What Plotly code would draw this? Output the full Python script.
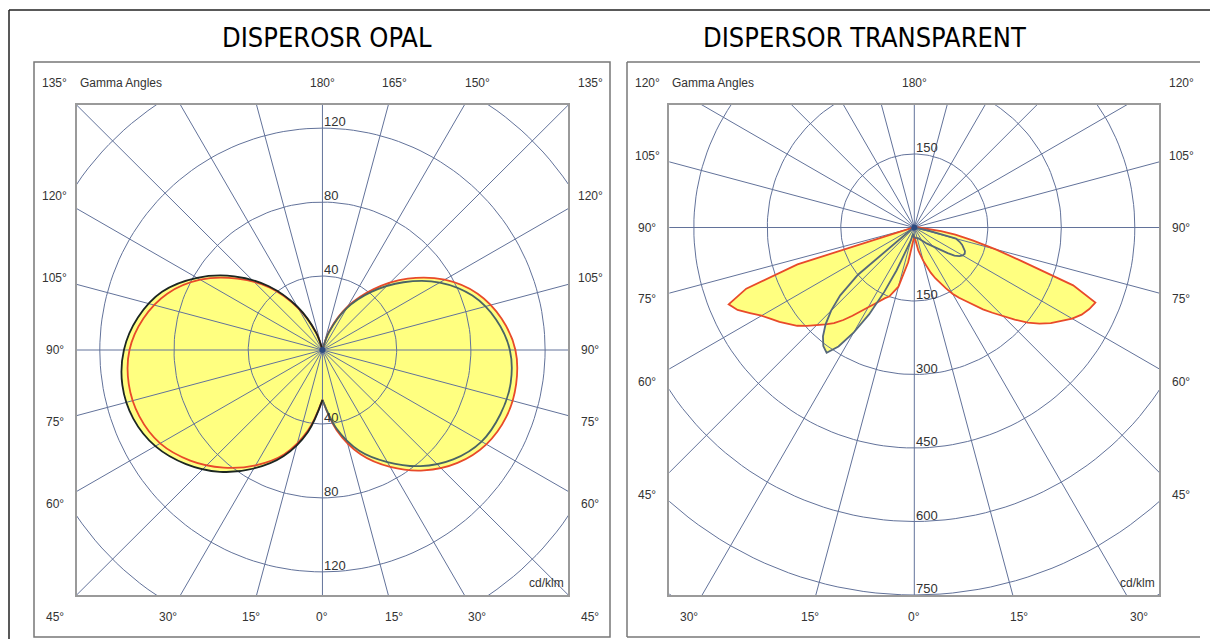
import math
import plotly.graph_objects as go

W, H = 1210, 639

# ---------------- data ----------------
TITLE_OPAL = "DISPEROSR OPAL"
TITLE_TRANS = "DISPERSOR TRANSPARENT"
AXIS_NAME = "Gamma Angles"
UNIT = "cd/klm"

# Opal diffuser, luminous intensity (cd/klm) vs gamma angle (deg)
OPAL_GAMMA = [0, 10, 20, 30, 40, 50, 60, 70, 80, 90, 100, 110, 120, 130, 140, 150, 160, 170, 180]
OPAL_C0 = [27, 44, 60, 73, 85, 95, 102, 105.5, 106, 104, 98, 89, 76, 60, 43, 27, 11, 0, 0]
OPAL_C180 = [27, 44, 60, 72, 83, 93, 101, 105, 106, 104, 98, 89, 76, 60, 44, 26, 10, 0, 0]
OPAL_C90 = [27, 43, 58, 70, 82, 92, 99, 102, 103, 101, 95, 86, 73, 57, 41, 26, 10, 0, 0]
OPAL_C270 = [27, 45, 61, 74, 86, 96, 104, 108.5, 109.5, 107, 101, 92, 78, 62, 45, 27, 10, 0, 0]
OPAL_CIRCLES = [40, 80, 120, 160]
OPAL_RLABELS_UP = [40, 80, 120]
OPAL_RLABELS_DOWN = [40, 80, 120]
OPAL_ANGLES_LEFT = [135, 120, 105, 90, 75, 60, 45, 30, 15, 0]
OPAL_ANGLES_RIGHT = [15, 30, 45, 60, 75, 90, 105, 120, 135, 150, 165, 180]

# Transparent diffuser
TRANS_GAMMA = [0, 5, 10, 15, 20, 22.5, 25, 27.5, 30, 32.5, 35, 37.5, 40, 42.5, 45, 47.5, 50,
               52.5, 55, 57.5, 60, 62.5, 65, 67.5, 70, 72.5, 75, 77.5, 80, 82.5, 85, 87.5, 90,
               100, 120, 150, 180]
TRANS_C0 = [18, 28, 48, 70, 98, 112, 126, 140, 156, 170, 183, 200, 218, 236, 255, 278, 302,
            322, 340, 356, 372, 385, 394, 400, 345, 232, 172, 122, 85, 55, 28, 12, 4,
            0, 0, 0, 0]
TRANS_C180 = [18, 30, 72, 125, 150, 156, 166, 176, 188, 203, 220, 238, 255, 268, 282, 297, 312,
              324, 336, 347, 360, 378, 398, 410, 365, 250, 40, 15, 8, 5, 3, 2, 1,
              0, 0, 0, 0]
TRANS_C90 = [21, 21, 21, 22, 23, 25, 27, 29, 31, 34, 37, 41, 45, 50, 55, 63, 72,
             86, 100, 109, 114, 116, 114, 109, 104, 97, 88, 30, 15, 10, 7, 5, 3,
             1, 0, 0, 0]
TRANS_C270 = [21, 16, 13, 28, 58, 95, 145, 200, 248, 288, 312, 305, 290, 268, 240, 205, 150,
              40, 12, 8, 6, 5, 4, 3, 3, 2, 2, 1, 1, 0, 0, 0, 0,
              0, 0, 0, 0]
TRANS_CIRCLES = [150, 300, 450, 600, 750, 900]
TRANS_RLABELS_UP = [150]
TRANS_RLABELS_DOWN = [150, 300, 450, 600, 750]
TRANS_ANGLES_LEFT = [120, 105, 90, 75, 60, 45, 30, 15, 0]
TRANS_ANGLES_RIGHT = [15, 30, 45, 60, 75, 90, 105, 120, 180]

# ---------------- styles ----------------
FILL = "#ffff80"
RED = "#e84a2a"
GRID = "#62729a"
TEXT = "#333333"
FONT = "Liberation Sans, Arial, sans-serif"
TITLE_FONT = "DejaVu Sans Condensed, DejaVu Sans, sans-serif"
RAY_STEP = 15
LABEL_GAP_PX = 22

PANELS = [
    dict(xa="x", ya="y", dom_px=(76.6, 568.3), xr=(-132.5, 132.5), yr=(-132.5, 132.5),
         gamma=OPAL_GAMMA, red=(OPAL_C0, OPAL_C180), dark=(OPAL_C90, OPAL_C270),
         dark_col=("#4a6464", "#1c2622"), shape="spline",
         circles=OPAL_CIRCLES, up=OPAL_RLABELS_UP, down=OPAL_RLABELS_DOWN,
         al=OPAL_ANGLES_LEFT, ar=OPAL_ANGLES_RIGHT, title=TITLE_OPAL, title_x=327),
    dict(xa="x2", ya="y2", dom_px=(669.3, 1159.3), xr=(-500, 500), yr=(-750, 250),
         gamma=TRANS_GAMMA, red=(TRANS_C0, TRANS_C180), dark=(TRANS_C90, TRANS_C270),
         dark_col=("#56687a", "#56687a"), shape="linear",
         circles=TRANS_CIRCLES, up=TRANS_RLABELS_UP, down=TRANS_RLABELS_DOWN,
         al=TRANS_ANGLES_LEFT, ar=TRANS_ANGLES_RIGHT, title=TITLE_TRANS, title_x=865),
]
PLOT_TOP_PX, PLOT_BOT_PX = 105, 595


def half_xy(gammas, vals, side):
    xs = [side * v * math.sin(math.radians(g)) for g, v in zip(gammas, vals)]
    ys = [-v * math.cos(math.radians(g)) for g, v in zip(gammas, vals)]
    return xs, ys


def dedupe(xs, ys):
    ox, oy = [], []
    for x, y in zip(xs, ys):
        if ox and abs(ox[-1] - x) < 1e-9 and abs(oy[-1] - y) < 1e-9:
            continue
        ox.append(x)
        oy.append(y)
    return ox, oy


def closed(gammas, right_vals, left_vals):
    xr, yr = half_xy(gammas, right_vals, 1)
    xl, yl = half_xy(gammas[::-1], left_vals[::-1], -1)
    xs, ys = dedupe(xr + xl, yr + yl)
    return xs + [xs[0]], ys + [ys[0]]


fig = go.Figure()
annotations = []

for p in PANELS:
    xa, ya = p["xa"], p["ya"]
    x0, x1 = p["xr"]
    y0, y1 = p["yr"]
    span_x = x1 - x0
    pxu = (p["dom_px"][1] - p["dom_px"][0]) / span_x
    big = 3 * max(span_x, y1 - y0)

    def dom(x, y):
        return (x - x0) / (x1 - x0), (y - y0) / (y1 - y0)

    # yellow fills (union of both planes)
    for right_vals, left_vals in (p["red"], p["dark"]):
        xs, ys = closed(p["gamma"], right_vals, left_vals)
        fig.add_trace(go.Scatter(x=xs, y=ys, xaxis=xa, yaxis=ya, mode="lines", fill="toself",
                                 fillcolor=FILL, line=dict(width=0, shape=p["shape"]),
                                 hoverinfo="skip", showlegend=False))

    # polar grid: rays
    rx, ry = [], []
    for k in range(0, 360, RAY_STEP):
        a = math.radians(k)
        rx += [0, big * math.sin(a), None]
        ry += [0, -big * math.cos(a), None]
    fig.add_trace(go.Scatter(x=rx, y=ry, xaxis=xa, yaxis=ya, mode="lines",
                             line=dict(color=GRID, width=1), hoverinfo="skip", showlegend=False))
    # polar grid: circles
    cx, cy = [], []
    for r in p["circles"]:
        for k in range(0, 361, 2):
            a = math.radians(k)
            cx.append(r * math.cos(a))
            cy.append(r * math.sin(a))
        cx.append(None)
        cy.append(None)
    fig.add_trace(go.Scatter(x=cx, y=cy, xaxis=xa, yaxis=ya, mode="lines",
                             line=dict(color=GRID, width=1), hoverinfo="skip", showlegend=False))

    # curve outlines
    for (vals, side, col) in ((p["red"][0], 1, RED), (p["red"][1], -1, RED),
                              (p["dark"][0], 1, p["dark_col"][0]), (p["dark"][1], -1, p["dark_col"][1])):
        xs, ys = dedupe(*half_xy(p["gamma"], vals, side))
        fig.add_trace(go.Scatter(x=xs, y=ys, xaxis=xa, yaxis=ya, mode="lines",
                                 line=dict(color=col, width=1.8, shape=p["shape"]),
                                 hoverinfo="skip", showlegend=False))

    fig.add_trace(go.Scatter(x=[0], y=[0], xaxis=xa, yaxis=ya, mode="markers",
                             marker=dict(color="#2c4a80", size=6), hoverinfo="skip", showlegend=False))

    # radial value labels
    for r in p["up"]:
        annotations.append(dict(x=0, y=r, xref=xa, yref=ya, text=str(r), showarrow=False,
                                xanchor="left", yanchor="bottom", yshift=-3,
                                font=dict(family=FONT, size=13, color=TEXT)))
    for r in p["down"]:
        annotations.append(dict(x=0, y=-r, xref=xa, yref=ya, text=str(r), showarrow=False,
                                xanchor="left", yanchor="bottom", yshift=-3,
                                font=dict(family=FONT, size=13, color=TEXT)))

    # gamma angle labels on a ring outside the plot frame
    gap = LABEL_GAP_PX / pxu
    ringx = x1 + gap
    ringt = y1 + gap
    ringb = y0 - gap
    for side, lst in ((-1, p["al"]), (1, p["ar"])):
        for g in lst:
            dx = side * math.sin(math.radians(g))
            dy = -math.cos(math.radians(g))
            ts = []
            if abs(dx) > 1e-9:
                ts.append(ringx / abs(dx))
            if dy > 1e-9:
                ts.append(ringt / dy)
            if dy < -1e-9:
                ts.append(-ringb / -dy)
            t = min(ts)
            x, y = t * dx, t * dy
            if abs(x) > 0.85 * ringx:
                x = math.copysign(ringx, x)
            if y > 0.85 * ringt:
                y = ringt
            if y < 0.85 * ringb:
                y = ringb
            fx, fy = dom(x, y)
            annotations.append(dict(x=fx, y=fy, xref=xa + " domain", yref=ya + " domain",
                                    text=f"{g}°", showarrow=False,
                                    xanchor="center", yanchor="middle",
                                    font=dict(family=FONT, size=12, color=TEXT)))
    fx, fy = dom(x0, ringt)
    annotations.append(dict(x=fx, y=fy, xref=xa + " domain", yref=ya + " domain", text=AXIS_NAME,
                            showarrow=False, xanchor="left", yanchor="middle", xshift=1,
                            font=dict(family=FONT, size=12, color=TEXT)))
    annotations.append(dict(x=1, y=0, xref=xa + " domain", yref=ya + " domain", text=UNIT,
                            showarrow=False, xanchor="right", yanchor="bottom", xshift=-2, yshift=3,
                            font=dict(family=FONT, size=12, color=TEXT)))
    annotations.append(dict(x=p["title_x"] / W, y=1 - 38 / H, xref="paper", yref="paper",
                            text=p["title"], showarrow=False, xanchor="center", yanchor="middle",
                            font=dict(family=TITLE_FONT, size=27, color="#000000")))


def px(xp):
    return xp / W


def py(yp):
    return 1 - yp / H


shapes = [
    # outer frame
    dict(type="line", xref="paper", yref="paper", x0=px(9), x1=px(1210), y0=py(10), y1=py(10),
         line=dict(color="#222222", width=1.5)),
    dict(type="line", xref="paper", yref="paper", x0=px(9), x1=px(9), y0=py(10), y1=py(639),
         line=dict(color="#222222", width=1.5)),
    # left panel box
    dict(type="rect", xref="paper", yref="paper", x0=px(34), x1=px(610), y0=py(637), y1=py(62),
         line=dict(color="#777777", width=1.5)),
    # right panel box (open on the right)
    dict(type="line", xref="paper", yref="paper", x0=px(627), x1=px(1200), y0=py(62), y1=py(62),
         line=dict(color="#777777", width=1.5)),
    dict(type="line", xref="paper", yref="paper", x0=px(627), x1=px(627), y0=py(62), y1=py(637),
         line=dict(color="#777777", width=1.5)),
    dict(type="line", xref="paper", yref="paper", x0=px(627), x1=px(1200), y0=py(637), y1=py(637),
         line=dict(color="#777777", width=1.5)),
]

ax_common = dict(showgrid=False, zeroline=False, showticklabels=False, ticks="",
                 showline=True, mirror=True, linecolor="#9a9a9a", linewidth=1.5, fixedrange=True)
ydom = [py(PLOT_BOT_PX), py(PLOT_TOP_PX)]

fig.update_layout(
    width=W, height=H, autosize=False,
    margin=dict(l=0, r=0, t=0, b=0),
    paper_bgcolor="white", plot_bgcolor="white",
    showlegend=False,
    xaxis=dict(domain=[px(PANELS[0]["dom_px"][0]), px(PANELS[0]["dom_px"][1])],
               range=list(PANELS[0]["xr"]), anchor="y", **ax_common),
    yaxis=dict(domain=ydom, range=list(PANELS[0]["yr"]), anchor="x", **ax_common),
    xaxis2=dict(domain=[px(PANELS[1]["dom_px"][0]), px(PANELS[1]["dom_px"][1])],
                range=list(PANELS[1]["xr"]), anchor="y2", **ax_common),
    yaxis2=dict(domain=ydom, range=list(PANELS[1]["yr"]), anchor="x2", **ax_common),
    annotations=annotations,
    shapes=shapes,
)

fig.write_html("out.html", config={"displayModeBar": False},
               post_script="document.body.style.margin='0';document.body.style.overflow='hidden';")
